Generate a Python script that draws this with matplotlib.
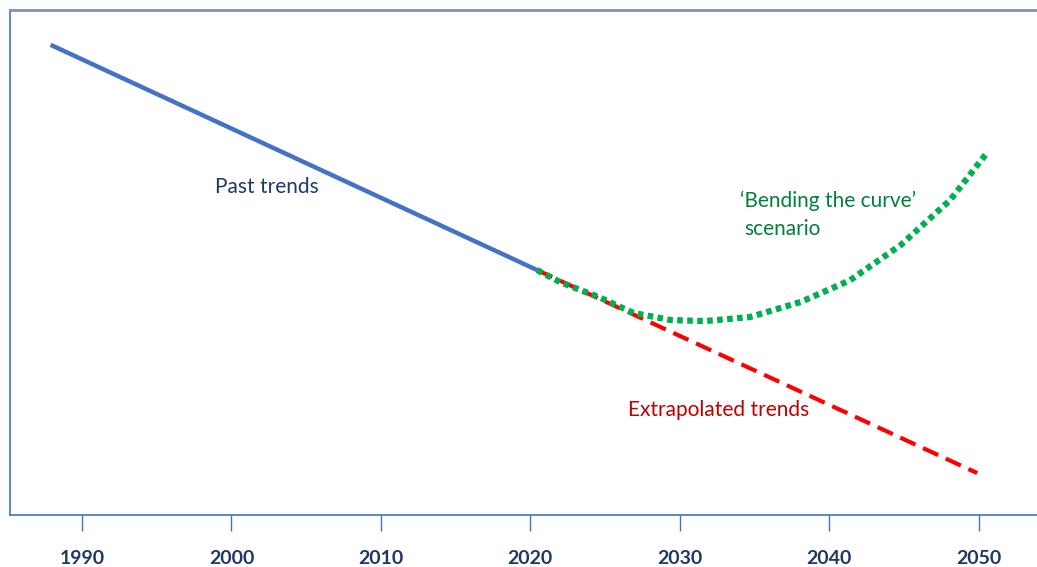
import numpy as np
import matplotlib.pyplot as plt

# values (year, index)
past_years = [1987.9, 2020.45]
past_vals = [93.1, 48.5]

extrap_years = [2020.45, 2049.9]
extrap_vals = [48.5, 8.3]

bend_years = [2020.45, 2022.0, 2024.7, 2026.9, 2029.4, 2031.7, 2034.7,
              2038.1, 2041.4, 2044.8, 2048.1, 2050.6]
bend_vals = [48.5, 46.1, 43.0, 40.0, 38.6, 38.4, 39.2,
             42.2, 46.5, 53.5, 62.4, 71.9]

tick_years = [1990, 2000, 2010, 2020, 2030, 2040, 2050]

plt.rcParams['font.family'] = ['Lato', 'DejaVu Sans']

fig = plt.figure(figsize=(10.37, 5.67), dpi=100)
ax = fig.add_axes([10 / 1037, 52 / 567, 1 - 10 / 1037, 505 / 567])

ax.plot(past_years, past_vals, color='#4472C4', lw=3.2, solid_capstyle='butt')
ax.plot(extrap_years, extrap_vals, color='#FF0000', lw=3, dashes=(4, 2))
ax.plot(bend_years, bend_vals, color='#00B050', lw=4.5, dashes=(0.9, 0.7))

ax.set_xlim(1985.18, 2053.9)
ax.set_ylim(0, 100)

for s in ['left', 'bottom']:
    ax.spines[s].set_color('#4472C4')
    ax.spines[s].set_linewidth(1.2)
ax.spines['top'].set_color('#7F93B8')
ax.spines['top'].set_linewidth(2)
ax.spines['right'].set_visible(False)

ax.set_yticks([])
ax.set_xticks(tick_years)
ax.set_xticklabels([str(y) for y in tick_years], fontsize=14, fontweight='bold',
                   color='#1F3864')
ax.tick_params(axis='x', direction='out', length=11.5, width=1, color='#4472C4', pad=14)

ax.text(1998.9, 65.0, 'Past trends', fontsize=15, color='#1F3864', va='center')
ax.text(2034.0, 62.3, '\u2018Bending the curve\u2019', fontsize=15, color='#00803C', va='center')
ax.text(2034.3, 56.6, 'scenario', fontsize=15, color='#00803C', va='center')
ax.text(2026.55, 20.8, 'Extrapolated trends', fontsize=15, color='#C00000', va='center')

fig.savefig('out.png', dpi=100)
